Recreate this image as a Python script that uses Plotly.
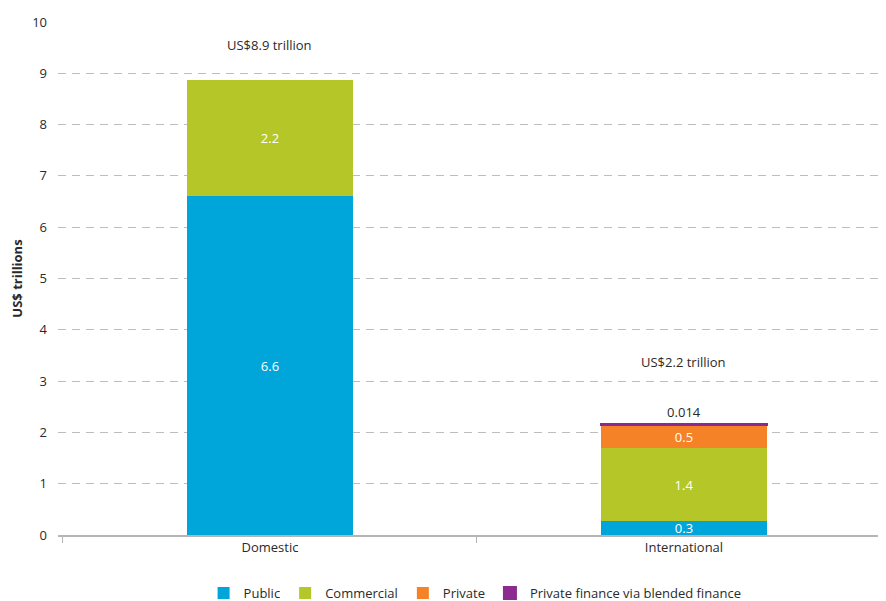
import plotly.graph_objects as go

categories = ["Domestic", "International"]
public = [6.6, 0.27]
commercial = [2.26, 1.42]
private = [None, 0.46]
blended = [None, 0.014]

public_labels = ["6.6", "0.3"]
commercial_labels = ["2.2", "1.4"]
private_labels = ["", "0.5"]
blended_labels = ["", "0.014"]

colors = {
    "Public": "#00a6d9",
    "Commercial": "#b5c628",
    "Private": "#f58226",
    "Private finance via blended finance": "#8c2a8f",
}

FONT = "Open Sans"
TXT = "#2a2a2a"

fig = go.Figure()
series = [
    ("Public", public, public_labels),
    ("Commercial", commercial, commercial_labels),
    ("Private", private, private_labels),
]
for name, vals, labels in series:
    fig.add_trace(go.Bar(
        name=name, x=categories, y=vals, text=labels,
        marker=dict(color=colors[name], line=dict(width=0)),
        textposition="inside", insidetextanchor="middle",
        constraintext="none",
        textfont=dict(color="white", size=13, family=FONT),
        width=0.4, hoverinfo="skip",
    ))

fig.add_trace(go.Bar(
    name="Private finance via blended finance", x=categories, y=blended,
    text=blended_labels,
    marker=dict(color=colors["Private finance via blended finance"],
                line=dict(width=2, color=colors["Private finance via blended finance"])),
    textposition="outside", constraintext="none", cliponaxis=False,
    textfont=dict(color=TXT, size=13, family=FONT),
    width=0.4, hoverinfo="skip",
))

totals = []
for i in range(len(categories)):
    s = sum(v[i] for v in (public, commercial, private, blended) if v[i] is not None)
    totals.append(s)

shifts = [35, 62]
for cat, tot, sh in zip(categories, totals, shifts):
    fig.add_annotation(
        x=cat, y=tot, yshift=sh, text=f"US${tot:.1f} trillion",
        showarrow=False, font=dict(size=13, color=TXT, family=FONT),
    )

fig.update_layout(
    width=878, height=593,
    margin=dict(l=50, r=0, t=14, b=66),
    barmode="stack",
    plot_bgcolor="white", paper_bgcolor="white",
    font=dict(family=FONT, size=13, color=TXT),
    showlegend=True,
    legend=dict(
        orientation="h", xref="container", yref="container",
        x=0.532, xanchor="center", y=0.0135, yanchor="middle",
        font=dict(size=13, color=TXT, family=FONT),
        traceorder="normal", itemwidth=30,
    ),
)
fig.update_xaxes(
    range=[-0.512, 1.488],
    showline=True, linecolor="#b5b5b5", linewidth=1.5,
    ticks="outside", tickson="boundaries", ticklen=6, tickcolor="#b5b5b5",
    tickfont=dict(size=13, color=TXT, family=FONT),
    showgrid=False,
)
fig.update_yaxes(
    range=[0, 10], dtick=1,
    showgrid=True, gridcolor="#bdbdbd", gridwidth=1, griddash="8px,6px",
    zeroline=False,
    ticklabelstandoff=10,
    tickfont=dict(size=13, color=TXT, family=FONT),
    title=dict(text="<b>US$ trillions</b>", font=dict(size=13, color=TXT, family=FONT), standoff=14),
)

fig.write_html("out.html")
